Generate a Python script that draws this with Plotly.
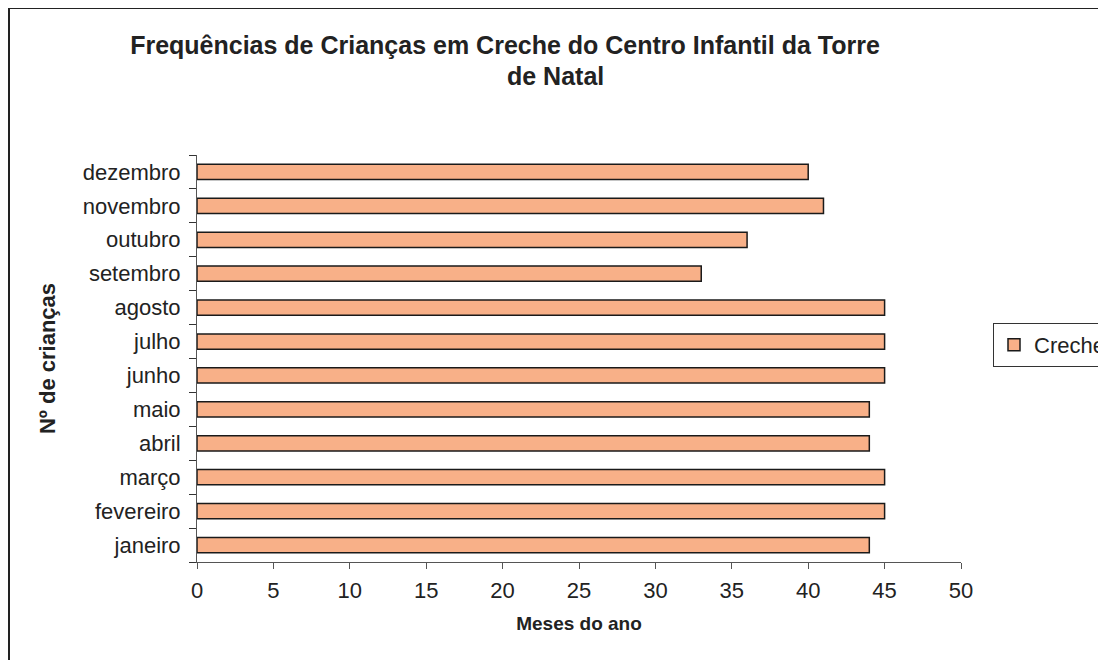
import plotly.graph_objects as go

months = ["janeiro", "fevereiro", "março", "abril", "maio", "junho",
          "julho", "agosto", "setembro", "outubro", "novembro", "dezembro"]
creche = [44, 45, 45, 44, 44, 45, 45, 45, 33, 36, 41, 40]
x_ticks = [0, 5, 10, 15, 20, 25, 30, 35, 40, 45, 50]
title_line1 = "Frequências de Crianças em Creche do Centro Infantil da Torre"
title_line2 = "de Natal"

FONT = "Liberation Sans, Arial, sans-serif"

# page body has an 8px margin; work in figure coordinates
OFF = 8
W, H = 1106 - OFF, 660 - OFF
L, R, T, B = 197 - OFF, 961 - OFF, 155 - OFF, 562 - OFF


def px(xs):
    return (xs - OFF - L) / (R - L)


def py(ys):
    return (B - (ys - OFF)) / (B - T)


fig = go.Figure()
fig.add_trace(go.Bar(
    y=months, x=creche, orientation="h", name="Creche",
    marker=dict(color="#F8B088", line=dict(color="#1a1a1a", width=1.5)),
    width=0.45,
))

fig.update_layout(
    width=W, height=H,
    margin=dict(l=L, r=W - R, t=T, b=H - B, autoexpand=False),
    paper_bgcolor="white", plot_bgcolor="white",
    font=dict(family=FONT, size=22, color="#222"),
    title=dict(
        text="<b>" + title_line1 + "</b>",
        x=(505 - OFF) / W, xanchor="center", y=1 - (45 - OFF) / H, yanchor="middle",
        font=dict(family=FONT, size=25, color="#222"),
    ),
    showlegend=True,
    legend=dict(
        x=px(993), xanchor="left", y=py(345), yanchor="middle",
        bordercolor="#333", borderwidth=1, bgcolor="white",
        font=dict(family=FONT, size=22, color="#222"),
        itemwidth=30,
    ),
    xaxis=dict(
        range=[0, 50], tickvals=x_ticks, ticktext=[str(v) for v in x_ticks],
        showgrid=False, zeroline=False,
        showline=True, linecolor="#555", linewidth=1,
        ticks="outside", ticklen=6, tickcolor="#555",
        ticklabelstandoff=3,
        title=dict(text="<b>Meses do ano</b>", font=dict(family=FONT, size=19, color="#222"), standoff=14),
    ),
    yaxis=dict(
        categoryorder="array", categoryarray=months,
        showgrid=False, zeroline=False,
        showline=True, linecolor="#555", linewidth=1,
        ticks="outside", ticklen=7, tickcolor="#333", tickson="boundaries",
        ticklabelstandoff=11,
        title=dict(text="<b>Nº de crianças</b>", font=dict(family=FONT, size=22, color="#222"), standoff=21),
    ),
    bargap=0.55,
)

fig.add_annotation(
    text="<b>" + title_line2 + "</b>", xref="paper", yref="paper",
    x=px(555), y=py(76), xanchor="center", yanchor="middle", showarrow=False,
    font=dict(family=FONT, size=25, color="#222"),
)

# outer chart frame
fig.add_shape(type="line", xref="paper", yref="paper",
              x0=px(9), x1=px(9), y0=py(8), y1=py(660),
              line=dict(color="#222", width=2))
fig.add_shape(type="line", xref="paper", yref="paper",
              x0=px(9), x1=px(1106), y0=py(8), y1=py(8),
              line=dict(color="#222", width=2))

fig.write_html("out.html")
